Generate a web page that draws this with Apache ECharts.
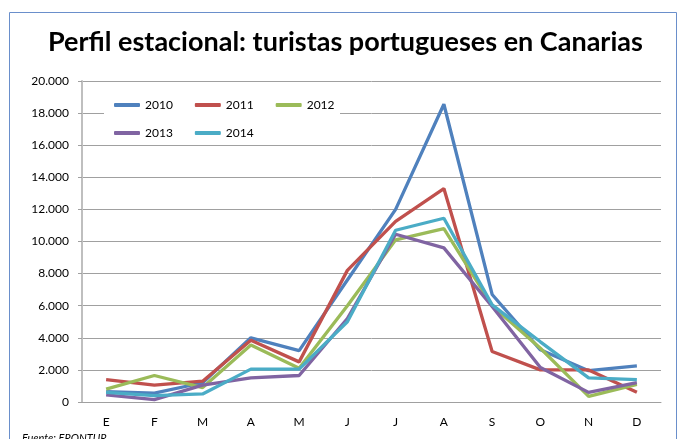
<!DOCTYPE html>
<html>
<head>
<meta charset="utf-8">
<script src="https://cdn.jsdelivr.net/npm/echarts@6/dist/echarts.min.js"></script>
<style>html,body{margin:0;padding:0;background:#fff}#c{width:681px;height:439px}</style>
</head>
<body>
<div id="c"></div>
<script>
var months = ['E','F','M','A','M','J','J','A','S','O','N','D'];
var s2010 = [650, 550, 1200, 4000, 3200, 7600, 12000, 18550, 6700, 3250, 1950, 2250];
var s2011 = [1400, 1050, 1300, 3850, 2500, 8200, 11250, 13300, 3150, 2000, 2000, 600];
var s2012 = [800, 1650, 900, 3550, 2100, 6000, 10100, 10800, 6000, 3350, 350, 1100];
var s2013 = [450, 150, 1050, 1500, 1650, 5200, 10450, 9600, 5950, 2150, 600, 1200];
var s2014 = [600, 400, 500, 2050, 2050, 5000, 10700, 11450, 6050, 3750, 1500, 1400];
var seriesNames = ['2010','2011','2012','2013','2014'];
var seriesData = [s2010, s2011, s2012, s2013, s2014];
var colors = ['#4F81BD','#C0504D','#9BBB59','#8064A2','#4BACC6'];
var titleText = 'Perfil estacional: turistas portugueses en Canarias';
var sourceText = 'Fuente: FRONTUR';

var chart = echarts.init(document.getElementById('c'));
var fontFam = 'Lato, "Liberation Sans", sans-serif';
var legendCommon = {
  orient: 'horizontal', itemGap: 22, itemWidth: 26, itemHeight: 4, icon: 'roundRect',
  padding: 0,
  textStyle: {fontFamily: fontFam, fontSize: 12, color: '#000'},
  z: 5
};
chart.setOption({
  animation: false,
  color: colors,
  title: [
    {text: titleText, left: 43, top: 24,
     textStyle: {fontFamily: fontFam, fontWeight: 'bold', fontSize: 27, color: '#000'}},
    {text: sourceText, left: 17, top: 428,
     textStyle: {fontFamily: fontFam, fontStyle: 'italic', fontWeight: 'normal', fontSize: 11, color: '#000'}}
  ],
  graphic: [
    {type: 'rect', shape: {x: 9.5, y: 12.5, width: 667, height: 460}, style: {fill: 'none', stroke: '#6A8FCB', lineWidth: 1}, z: 0, silent: true},
    {type: 'rect', shape: {x: 104, y: 90, width: 236, height: 53}, style: {fill: '#fff'}, z: 3, silent: true}
  ],
  legend: [
    Object.assign({}, legendCommon, {data: seriesNames.slice(0,3), left: 114, top: 99}),
    Object.assign({}, legendCommon, {data: seriesNames.slice(3), left: 114, top: 127})
  ],
  grid: {left: 82, right: 20, top: 81, bottom: 37, containLabel: false},
  xAxis: {
    type: 'category', data: months, boundaryGap: true,
    axisLine: {lineStyle: {color: '#A0A0A0', width: 1}},
    axisTick: {show: false},
    axisLabel: {fontFamily: fontFam, fontSize: 12, color: '#000', margin: 14}
  },
  yAxis: {
    type: 'value', min: 0, max: 20000, interval: 2000,
    axisLine: {show: true, lineStyle: {color: '#BFBFBF', width: 2}},
    axisTick: {show: true, length: 4, lineStyle: {color: '#A0A0A0'}},
    splitLine: {lineStyle: {color: '#A0A0A0', width: 1}},
    axisLabel: {fontFamily: fontFam, fontSize: 12, color: '#000', margin: 13,
      formatter: function (v) { return v === 0 ? '0' : String(v).replace(/\B(?=(\d{3})+(?!\d))/g, '.'); }}
  },
  series: seriesNames.map(function (n, i) {
    return {name: n, type: 'line', data: seriesData[i], symbol: 'none', smooth: false,
      lineStyle: {width: 3.3, color: colors[i]}, itemStyle: {color: colors[i]}, z: 2 + i};
  })
});
</script>
</body>
</html>
